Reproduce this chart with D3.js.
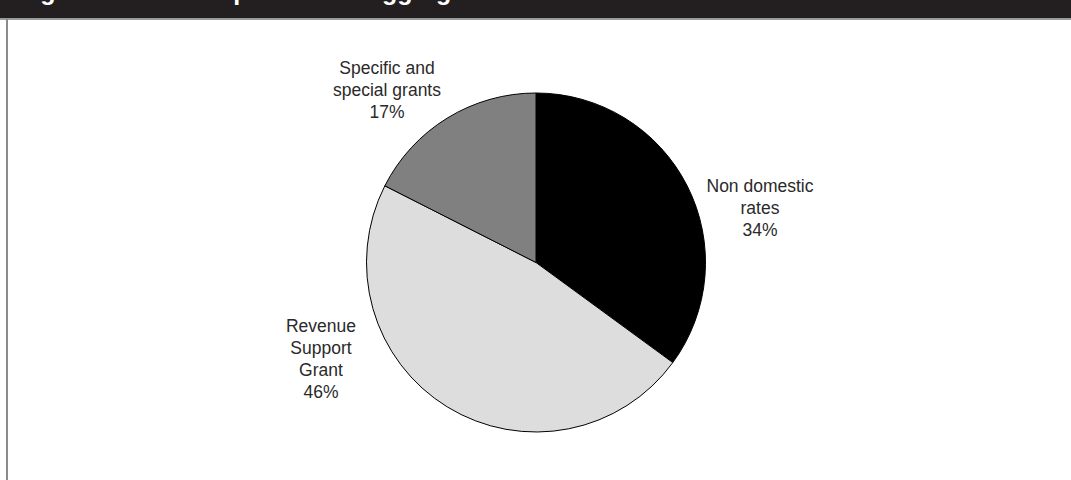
<!DOCTYPE html>
<html>
<head>
<meta charset="utf-8">
<style>
  body { margin: 0; background: #fff; }
  svg { display: block; }
</style>
</head>
<body>
<div id="chart"></div>
<script src="https://d3js.org/d3.v7.min.js"></script>
<script>
// data
var categories = ["Non domestic rates", "Revenue Support Grant", "Specific and special grants"];
var values = [34, 46, 17];
var labelLines = [
  ["Non domestic", "rates", "34%"],
  ["Revenue", "Support", "Grant", "46%"],
  ["Specific and", "special grants", "17%"]
];
var colours = ["#000000", "#dddddd", "#808080"];

var width = 1071, height = 480;
var cx = 536, cy = 262.5, radius = 169.5;

var svg = d3.select("#chart").append("svg")
    .attr("width", width)
    .attr("height", height);

// header bar, the title sits above the top edge as in the scan
svg.append("rect")
    .attr("x", 0).attr("y", 0)
    .attr("width", width).attr("height", 18.5)
    .attr("fill", "#231f20");
svg.append("line")
    .attr("x1", 0).attr("x2", width)
    .attr("y1", 19.2).attr("y2", 19.2)
    .attr("stroke", "#a0a0a0").attr("stroke-width", 1.4);
svg.append("text")
    .attr("x", 18).attr("y", 0)
    .attr("fill", "#ffffff")
    .style("font-family", "Liberation Sans, Arial, sans-serif")
    .style("font-weight", "bold")
    .style("font-size", "25px")
    .text("Figure 2: The components of aggregate external finance");

// left frame line
svg.append("line")
    .attr("x1", 7).attr("x2", 7)
    .attr("y1", 19.5).attr("y2", height)
    .attr("stroke", "#4d4d4d").attr("stroke-width", 1.3);

// pie
var pie = d3.pie().sort(null).value(function(d) { return d; });
var arc = d3.arc().innerRadius(0).outerRadius(radius);

var g = svg.append("g").attr("transform", "translate(" + cx + "," + cy + ")");

g.selectAll("path")
    .data(pie(values))
    .enter()
    .append("path")
    .attr("d", arc)
    .attr("fill", function(d, i) { return colours[i]; })
    .attr("stroke", "#000")
    .attr("stroke-width", 1);

// labels: centre x and first baseline for each slice
var labelPos = [
  { x: 760, y: 192 },
  { x: 321, y: 332 },
  { x: 387, y: 74 }
];
var lineHeight = 22;

labelLines.forEach(function(lines, i) {
  var t = svg.append("text")
      .attr("text-anchor", "middle")
      .attr("fill", "#2a2a2a")
      .style("font-family", "Liberation Sans, Arial, sans-serif")
      .style("font-size", "17.5px");
  lines.forEach(function(l, j) {
    t.append("tspan")
        .attr("x", labelPos[i].x)
        .attr("y", labelPos[i].y + j * lineHeight)
        .text(l);
  });
});
</script>
</body>
</html>
